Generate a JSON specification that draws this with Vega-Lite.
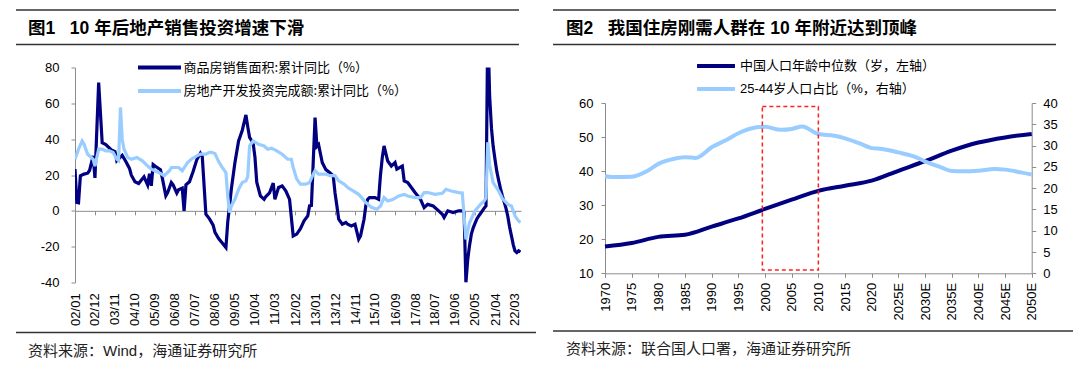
{
  "$schema": "https://vega.github.io/schema/vega-lite/v6.json",
  "padding": {"left": 15, "top": 9, "right": 0, "bottom": 0},
  "background": "white",
  "config": {
    "view": {"stroke": null},
    "font": "Liberation Sans, Noto Sans CJK SC",
    "axis": {"labelFont": "Liberation Sans", "labelFontSize": 13, "labelColor": "#000", "domainColor": "#8c8c8c", "tickColor": "#8c8c8c", "grid": false, "title": null, "labelOverlap": false, "labelFlush": false}
  },
  "datasets": {
    "sales": [
      {"date":"2002-01","v":23.3},{"date":"2002-02","v":4.7},{"date":"2002-03","v":4.5},{"date":"2002-04","v":19.5},{"date":"2002-06","v":20.5},{"date":"2002-08","v":21},{"date":"2002-09","v":22.5},{"date":"2002-11","v":30.7},{"date":"2002-12","v":18.4},
      {"date":"2003-02","v":71.6},{"date":"2003-04","v":38},{"date":"2003-06","v":37},{"date":"2003-09","v":34},{"date":"2003-11","v":33},{"date":"2003-12","v":28},
      {"date":"2004-03","v":31},{"date":"2004-05","v":27.5},{"date":"2004-07","v":23.7},{"date":"2004-08","v":19.9},{"date":"2004-10","v":16.2},{"date":"2004-12","v":15.3},
      {"date":"2005-03","v":19},{"date":"2005-05","v":14.4},{"date":"2005-06","v":20.7},{"date":"2005-07","v":14},{"date":"2005-08","v":25.8},{"date":"2005-09","v":25},{"date":"2005-12","v":23},
      {"date":"2006-01","v":18.4},{"date":"2006-03","v":8.4},{"date":"2006-04","v":10.2},{"date":"2006-06","v":15.8},{"date":"2006-07","v":14.5},{"date":"2006-09","v":9.9},{"date":"2006-10","v":11.8},{"date":"2006-12","v":12.7},
      {"date":"2007-01","v":0},{"date":"2007-02","v":14.5},{"date":"2007-04","v":16.2},{"date":"2007-06","v":22},{"date":"2007-08","v":28.5},{"date":"2007-10","v":32.2},{"date":"2007-11","v":30.4},
      {"date":"2008-01","v":-1.9},{"date":"2008-03","v":-4.5},{"date":"2008-05","v":-8},{"date":"2008-06","v":-12},{"date":"2008-08","v":-15.5},{"date":"2008-10","v":-18},{"date":"2008-12","v":-20.5},
      {"date":"2009-01","v":-6},{"date":"2009-02","v":3},{"date":"2009-03","v":12},{"date":"2009-05","v":27},{"date":"2009-07","v":39},{"date":"2009-09","v":45},{"date":"2009-11","v":53.5},{"date":"2009-12","v":47},
      {"date":"2010-01","v":41},{"date":"2010-03","v":38},{"date":"2010-04","v":30},{"date":"2010-05","v":16},{"date":"2010-07","v":8.3},{"date":"2010-09","v":6.4},{"date":"2010-10","v":8},{"date":"2010-12","v":10},
      {"date":"2011-02","v":15.5},{"date":"2011-03","v":6.4},{"date":"2011-05","v":13},{"date":"2011-07","v":13.9},{"date":"2011-09","v":11},{"date":"2011-11","v":6.4},
      {"date":"2012-01","v":-14},{"date":"2012-03","v":-13},{"date":"2012-05","v":-10},{"date":"2012-07","v":-5.6},{"date":"2012-09","v":-2.8},{"date":"2012-10","v":2.8},{"date":"2012-11","v":3},{"date":"2012-12","v":27},
      {"date":"2013-01","v":52},{"date":"2013-02","v":36},{"date":"2013-03","v":37},{"date":"2013-05","v":27},{"date":"2013-07","v":23},{"date":"2013-09","v":21.4},{"date":"2013-11","v":19.6},{"date":"2013-12","v":10},
      {"date":"2014-01","v":2.8},{"date":"2014-02","v":-4.7},{"date":"2014-04","v":-7.5},{"date":"2014-06","v":-6.5},{"date":"2014-07","v":-7.5},{"date":"2014-09","v":-8.4},{"date":"2014-11","v":-7.5},
      {"date":"2015-01","v":-15.8},{"date":"2015-02","v":-14},{"date":"2015-04","v":-4.7},{"date":"2015-05","v":3},{"date":"2015-06","v":6.4},{"date":"2015-07","v":7.4},{"date":"2015-10","v":7.4},{"date":"2015-12","v":6.4},
      {"date":"2016-01","v":20},{"date":"2016-02","v":30},{"date":"2016-03","v":36.2},{"date":"2016-05","v":27.8},{"date":"2016-07","v":25},{"date":"2016-09","v":27},{"date":"2016-10","v":23.3},
      {"date":"2017-01","v":25},{"date":"2017-02","v":16.7},{"date":"2017-04","v":15.8},{"date":"2017-06","v":13},{"date":"2017-08","v":10.2},{"date":"2017-11","v":6.4},
      {"date":"2018-01","v":1.8},{"date":"2018-03","v":3.6},{"date":"2018-06","v":2.7},{"date":"2018-09","v":0},{"date":"2018-11","v":-1.9},{"date":"2018-12","v":-3.7},
      {"date":"2019-02","v":0},{"date":"2019-05","v":-1},{"date":"2019-08","v":0},{"date":"2019-10","v":0},{"date":"2019-11","v":-1},{"date":"2019-12","v":-40},
      {"date":"2020-01","v":-27},{"date":"2020-02","v":-19},{"date":"2020-03","v":-13},{"date":"2020-04","v":-9.5},{"date":"2020-05","v":-7},{"date":"2020-06","v":-4.5},{"date":"2020-07","v":-3},{"date":"2020-08","v":-1.5},{"date":"2020-09","v":0},{"date":"2020-10","v":1.5},{"date":"2020-11","v":2.7},{"date":"2020-12","v":104.9},
      {"date":"2021-01","v":64},{"date":"2021-02","v":46},{"date":"2021-03","v":36},{"date":"2021-04","v":28.7},{"date":"2021-05","v":22},{"date":"2021-06","v":17},{"date":"2021-07","v":12.5},{"date":"2021-08","v":8.5},{"date":"2021-09","v":5},{"date":"2021-10","v":1.5},{"date":"2021-11","v":-3},{"date":"2021-12","v":-9},
      {"date":"2022-01","v":-14},{"date":"2022-02","v":-19},{"date":"2022-03","v":-22.3},{"date":"2022-04","v":-23.3},{"date":"2022-05","v":-22.3},{"date":"2022-06","v":-23}
    ],
    "inv": [
      {"date":"2002-01","v":28.8},{"date":"2002-03","v":34.4},{"date":"2002-05","v":39},{"date":"2002-06","v":37.2},{"date":"2002-08","v":31.6},{"date":"2002-10","v":29.8},{"date":"2002-11","v":28.8},{"date":"2002-12","v":25},
      {"date":"2003-02","v":34.4},{"date":"2003-04","v":34.4},{"date":"2003-06","v":33.5},{"date":"2003-08","v":33.5},{"date":"2003-10","v":32.6},{"date":"2003-12","v":28.8},
      {"date":"2004-01","v":28},{"date":"2004-02","v":57.7},{"date":"2004-03","v":40},{"date":"2004-04","v":34.4},{"date":"2004-06","v":29.8},{"date":"2004-08","v":28.8},{"date":"2004-11","v":29.8},
      {"date":"2005-02","v":27.9},{"date":"2005-05","v":25},{"date":"2005-07","v":23.3},{"date":"2005-11","v":21.4},
      {"date":"2006-02","v":19.6},{"date":"2006-05","v":22.4},{"date":"2006-06","v":24.2},{"date":"2006-10","v":24.2},{"date":"2006-12","v":22.4},
      {"date":"2007-03","v":27},{"date":"2007-05","v":28.8},{"date":"2007-08","v":30.7},{"date":"2007-10","v":31.6},
      {"date":"2008-01","v":31.6},{"date":"2008-03","v":32.6},{"date":"2008-04","v":32.6},{"date":"2008-06","v":32},{"date":"2008-08","v":27.5},{"date":"2008-10","v":24.2},{"date":"2008-12","v":21.4},
      {"date":"2009-01","v":8},{"date":"2009-02","v":-1},{"date":"2009-03","v":2.7},{"date":"2009-05","v":6.4},{"date":"2009-07","v":12},{"date":"2009-09","v":15.8},{"date":"2009-11","v":16.7},{"date":"2009-12","v":19},
      {"date":"2010-01","v":36.2},{"date":"2010-03","v":39},{"date":"2010-06","v":37.2},{"date":"2010-09","v":36.2},{"date":"2010-11","v":34.4},
      {"date":"2011-01","v":35},{"date":"2011-04","v":33.5},{"date":"2011-07","v":31.6},{"date":"2011-10","v":28.8},{"date":"2011-12","v":28.8},
      {"date":"2012-01","v":24.2},{"date":"2012-03","v":17.7},{"date":"2012-05","v":14.9},{"date":"2012-08","v":14.9},{"date":"2012-10","v":15.8},{"date":"2012-12","v":20.5},
      {"date":"2013-01","v":22.4},{"date":"2013-03","v":20.5},{"date":"2013-07","v":20.5},{"date":"2013-09","v":19.6},{"date":"2013-12","v":19.6},
      {"date":"2014-02","v":16.7},{"date":"2014-05","v":14.9},{"date":"2014-07","v":13},{"date":"2014-10","v":11.1},
      {"date":"2015-01","v":9.2},{"date":"2015-03","v":7},{"date":"2015-05","v":4.6},{"date":"2015-08","v":2},{"date":"2015-11","v":0.9},
      {"date":"2016-01","v":2.7},{"date":"2016-03","v":7.4},{"date":"2016-05","v":5.5},{"date":"2016-08","v":6.4},{"date":"2016-11","v":8.3},
      {"date":"2017-02","v":9.2},{"date":"2017-04","v":8.3},{"date":"2017-08","v":7.4},{"date":"2017-11","v":7.4},
      {"date":"2018-01","v":10.2},{"date":"2018-03","v":10.2},{"date":"2018-07","v":9.2},{"date":"2018-11","v":9.8},
      {"date":"2019-01","v":12},{"date":"2019-04","v":11.1},{"date":"2019-08","v":10.2},{"date":"2019-10","v":10},{"date":"2019-11","v":-2.8},{"date":"2019-12","v":-16},
      {"date":"2020-01","v":-11},{"date":"2020-02","v":-6.5},{"date":"2020-03","v":-4.5},{"date":"2020-05","v":0},{"date":"2020-08","v":3.6},{"date":"2020-10","v":5.5},{"date":"2020-11","v":7},{"date":"2020-12","v":38.3},
      {"date":"2021-01","v":25.6},{"date":"2021-03","v":15.8},{"date":"2021-06","v":11.1},{"date":"2021-08","v":7},{"date":"2021-11","v":3.6},
      {"date":"2022-01","v":2.7},{"date":"2022-03","v":-2.8},{"date":"2022-05","v":-5.6},{"date":"2022-06","v":-6.5}
    ],
    "age": [
      {"year":1970,"v":17.9},{"year":1975,"v":18.9},{"year":1980,"v":20.7},{"year":1985,"v":21.3},{"year":1990,"v":23.7},{"year":1995,"v":26.1},{"year":2000,"v":28.9},{"year":2005,"v":31.6},{"year":2010,"v":34.2},{"year":2015,"v":35.7},{"year":2020,"v":37.2},{"year":2025,"v":40.1},{"year":2030,"v":42.9},{"year":2035,"v":46.0},{"year":2040,"v":48.4},{"year":2045,"v":49.9},{"year":2050,"v":50.9}
    ],
    "share": [
      {"year":1970,"v":22.8},{"year":1972,"v":22.6},{"year":1975,"v":22.7},{"year":1978,"v":24.1},{"year":1980,"v":25.7},{"year":1983,"v":26.9},{"year":1985,"v":27.25},{"year":1987,"v":27.1},{"year":1990,"v":29.6},{"year":1993,"v":31.5},{"year":1995,"v":32.9},{"year":1997,"v":33.9},{"year":2000,"v":34.4},{"year":2003,"v":33.7},{"year":2005,"v":33.9},{"year":2007,"v":34.5},{"year":2010,"v":32.7},{"year":2013,"v":32.3},{"year":2015,"v":31.7},{"year":2018,"v":30.4},{"year":2020,"v":29.4},{"year":2022,"v":29.2},{"year":2025,"v":28.4},{"year":2028,"v":27.4},{"year":2030,"v":26.3},{"year":2033,"v":24.9},{"year":2035,"v":24.0},{"year":2037,"v":23.95},{"year":2040,"v":24.1},{"year":2043,"v":24.5},{"year":2045,"v":24.35},{"year":2048,"v":23.7},{"year":2050,"v":23.2}
    ]
  },
  "resolve": {"scale": {"color": "independent"}, "legend": {"color": "independent"}},
  "spacing": 15,
  "hconcat": [
    {
      "spacing": 11.5,
      "resolve": {"scale": {"color": "independent"}, "legend": {"color": "independent"}},
      "vconcat": [
        {
          "width": 503, "height": 34.5,
          "data": {"values": [{"label": "图1\u00a0\u00a0\u00a010 年后地产销售投资增速下滑"}]},
          "layer": [
            {"mark": {"type": "rule", "stroke": "#333", "strokeWidth": 1.5},
             "encoding": {"x": {"datum": 0, "type": "quantitative", "scale": {"domain": [0, 1]}, "axis": null}, "x2": {"datum": 1}, "y": {"datum": 1, "type": "quantitative", "scale": {"domain": [0, 1]}, "axis": null}}},
            {"mark": {"type": "rule", "stroke": "#333", "strokeWidth": 1.5},
             "encoding": {"x": {"datum": 0, "type": "quantitative"}, "x2": {"datum": 1}, "y": {"datum": 0, "type": "quantitative"}}},
            {"mark": {"type": "text", "align": "left", "baseline": "middle", "dx": 12, "fontSize": 17.5, "fontWeight": "bold", "color": "#000", "font": "Liberation Sans, Noto Sans CJK SC"},
             "encoding": {"text": {"field": "label"}, "x": {"datum": 0, "type": "quantitative"}, "y": {"datum": 0.45, "type": "quantitative"}}}
          ]
        },
        {
          "spacing": 6,
          "resolve": {"scale": {"color": "independent"}, "legend": {"color": "independent"}},
          "vconcat": [
            {
              "spacing": 0,
              "resolve": {"scale": {"color": "independent"}, "legend": {"color": "independent"}},
              "hconcat": [
                {"width": 1, "height": 1, "data": {"values": []}, "mark": {"type": "point", "opacity": 0}},
                {
                  "width": 446, "height": 215,
                  "encoding": {
                    "x": {"field": "date", "type": "temporal",
                          "scale": {"type": "utc", "domain": [{"year": 2002, "month": 1, "date": 1, "utc": true}, {"year": 2022, "month": 6, "date": 10, "utc": true}]},
                          "axis": {"values": [
                            {"year":2002,"month":1,"utc":true},{"year":2002,"month":12,"utc":true},{"year":2003,"month":11,"utc":true},{"year":2004,"month":10,"utc":true},
                            {"year":2005,"month":9,"utc":true},{"year":2006,"month":8,"utc":true},{"year":2007,"month":7,"utc":true},{"year":2008,"month":6,"utc":true},
                            {"year":2009,"month":5,"utc":true},{"year":2010,"month":4,"utc":true},{"year":2011,"month":3,"utc":true},{"year":2012,"month":2,"utc":true},
                            {"year":2013,"month":1,"utc":true},{"year":2013,"month":12,"utc":true},{"year":2014,"month":11,"utc":true},{"year":2015,"month":10,"utc":true},
                            {"year":2016,"month":9,"utc":true},{"year":2017,"month":8,"utc":true},{"year":2018,"month":7,"utc":true},{"year":2019,"month":6,"utc":true},
                            {"year":2020,"month":5,"utc":true},{"year":2021,"month":4,"utc":true},{"year":2022,"month":3,"utc":true}],
                            "labelExpr": "utcFormat(datum.value, '%y/%m')", "labelAngle": 270, "offset": -71.67, "labelPadding": 78, "tickSize": 4, "labelFontSize": 13, "labelOverlap": false, "labelFlush": false}},
                    "y": {"field": "v", "type": "quantitative", "scale": {"domain": [-40, 80], "nice": false},
                          "axis": {"values": [-40, -20, 0, 20, 40, 60, 80], "labelExpr": "'' + datum.value", "tickSize": 4, "labelPadding": 12, "minExtent": 58, "labelOverlap": false, "labelFlush": false}}
                  },
                  "layer": [
                    {
                      "data": {"name": "sales"},
                      "mark": {"type": "line", "strokeWidth": 3.2, "clip": true},
                      "encoding": {
                        "color": {"datum": "商品房销售面积:累计同比（%）", "type": "nominal",
                                  "scale": {"domain": ["商品房销售面积:累计同比（%）", "房地产开发投资完成额:累计同比（%）"], "range": ["#000080", "#99ccff"]},
                                  "legend": {"orient": "none", "legendX": 75, "legendY": -9.5, "title": null, "symbolType": "M-3,0H3", "symbolSize": 205, "symbolStrokeWidth": 4, "labelFont": "Noto Sans CJK SC", "labelFontSize": 13, "labelColor": "#000", "labelLimit": 400, "rowPadding": 5.5, "padding": 0, "labelOffset": 14.5}}
                      }
                    },
                    {
                      "data": {"name": "inv"},
                      "mark": {"type": "line", "strokeWidth": 3.2, "clip": true},
                      "encoding": {
                        "color": {"datum": "房地产开发投资完成额:累计同比（%）", "type": "nominal"}
                      }
                    }
                  ]
                }
              ]
            },
            {
              "width": 520, "height": 30,
              "data": {"values": [{"label": "资料来源：Wind，海通证券研究所"}]},
              "layer": [
                {"mark": {"type": "rule", "stroke": "#333", "strokeWidth": 1.5},
                 "encoding": {"x": {"datum": 0, "type": "quantitative", "scale": {"domain": [0, 1]}, "axis": null}, "x2": {"datum": 1}, "y": {"datum": 1, "type": "quantitative", "scale": {"domain": [0, 1]}, "axis": null}}},
                {"mark": {"type": "text", "align": "left", "baseline": "middle", "dx": 12, "fontSize": 15, "color": "#222", "font": "Liberation Sans, Noto Sans CJK SC"},
                 "encoding": {"text": {"field": "label"}, "x": {"datum": 0, "type": "quantitative"}, "y": {"datum": 0.4, "type": "quantitative"}}}
              ]
            }
          ]
        }
      ]
    },
    {
      "spacing": 11,
      "resolve": {"scale": {"color": "independent"}, "legend": {"color": "independent"}},
      "vconcat": [
        {
          "width": 503, "height": 34.5,
          "data": {"values": [{"label": "图2\u00a0\u00a0\u00a0我国住房刚需人群在 10 年附近达到顶峰"}]},
          "layer": [
            {"mark": {"type": "rule", "stroke": "#333", "strokeWidth": 1.5},
             "encoding": {"x": {"datum": 0, "type": "quantitative", "scale": {"domain": [0, 1]}, "axis": null}, "x2": {"datum": 1}, "y": {"datum": 1, "type": "quantitative", "scale": {"domain": [0, 1]}, "axis": null}}},
            {"mark": {"type": "rule", "stroke": "#333", "strokeWidth": 1.5},
             "encoding": {"x": {"datum": 0, "type": "quantitative"}, "x2": {"datum": 1}, "y": {"datum": 0, "type": "quantitative"}}},
            {"mark": {"type": "text", "align": "left", "baseline": "middle", "dx": 13, "fontSize": 17.5, "fontWeight": "bold", "color": "#000", "font": "Liberation Sans, Noto Sans CJK SC"},
             "encoding": {"text": {"field": "label"}, "x": {"datum": 0, "type": "quantitative"}, "y": {"datum": 0.45, "type": "quantitative"}}}
          ]
        },
        {
          "spacing": 10,
          "resolve": {"scale": {"color": "independent"}, "legend": {"color": "independent"}},
          "vconcat": [
            {
              "spacing": 0,
              "resolve": {"scale": {"color": "independent"}, "legend": {"color": "independent"}},
              "hconcat": [
                {"width": 1, "height": 1, "data": {"values": []}, "mark": {"type": "point", "opacity": 0}},
                {
                  "width": 426.7, "height": 170.3,
                  "resolve": {"scale": {"y": "independent"}},
                  "encoding": {
                    "x": {"field": "year", "type": "quantitative", "scale": {"domain": [1970, 2050], "nice": false, "zero": false},
                          "axis": {"values": [1970,1975,1980,1985,1990,1995,2000,2005,2010,2015,2020,2025,2030,2035,2040,2045,2050], "format": "d",
                                   "labelExpr": "datum.value > 2020 ? datum.value + 'E' : '' + datum.value", "labelAngle": 270, "tickSize": 4, "labelPadding": 5, "labelFontSize": 13, "labelOverlap": false, "labelFlush": false}}
                  },
                  "layer": [
                    {
                      "data": {"name": "age"},
                      "mark": {"type": "line", "strokeWidth": 4, "interpolate": "monotone"},
                      "encoding": {
                        "y": {"field": "v", "type": "quantitative", "scale": {"domain": [10, 60], "nice": false, "zero": false},
                              "axis": {"orient": "left", "values": [10, 20, 30, 40, 50, 60], "tickSize": 4, "labelPadding": 8, "minExtent": 51, "labelOverlap": false, "labelFlush": false}},
                        "color": {"datum": "中国人口年龄中位数（岁，左轴）", "type": "nominal",
                                  "scale": {"domain": ["中国人口年龄中位数（岁，左轴）", "25-44岁人口占比（%，右轴）"], "range": ["#000080", "#99ccff"]},
                                  "legend": {"orient": "none", "legendX": 102.5, "legendY": -45.5, "title": null, "symbolType": "M-3,0H3", "symbolSize": 160, "symbolStrokeWidth": 4, "labelFont": "Liberation Sans, Noto Sans CJK SC", "labelFontSize": 13, "labelColor": "#000", "labelLimit": 400, "rowPadding": 6, "padding": 0, "labelOffset": 15.5}}
                      }
                    },
                    {
                      "data": {"name": "share"},
                      "mark": {"type": "line", "strokeWidth": 4, "interpolate": "monotone"},
                      "encoding": {
                        "y": {"field": "v", "type": "quantitative", "scale": {"domain": [0, 40], "nice": false},
                              "axis": {"orient": "right", "values": [0, 5, 10, 15, 20, 25, 30, 35, 40], "tickSize": 4, "labelPadding": 7, "labelOverlap": false, "labelFlush": false}},
                        "color": {"datum": "25-44岁人口占比（%，右轴）", "type": "nominal"}
                      }
                    },
                    {
                      "data": {"values": [{"year": 1999.5, "year_end": 2010, "low": 11, "high": 59}]},
                      "mark": {"type": "rect", "fill": "transparent", "stroke": "#ff2020", "strokeDash": [4, 3], "strokeWidth": 1.5},
                      "encoding": {
                        "x2": {"field": "year_end"},
                        "y": {"field": "low", "type": "quantitative", "scale": {"domain": [10, 60], "nice": false, "zero": false}, "axis": null},
                        "y2": {"field": "high"}
                      }
                    }
                  ]
                }
              ]
            },
            {
              "width": 520, "height": 30,
              "data": {"values": [{"label": "资料来源：联合国人口署，海通证券研究所"}]},
              "layer": [
                {"mark": {"type": "rule", "stroke": "#333", "strokeWidth": 1.5},
                 "encoding": {"x": {"datum": 0, "type": "quantitative", "scale": {"domain": [0, 1]}, "axis": null}, "x2": {"datum": 1}, "y": {"datum": 1, "type": "quantitative", "scale": {"domain": [0, 1]}, "axis": null}}},
                {"mark": {"type": "text", "align": "left", "baseline": "middle", "dx": 13, "fontSize": 15, "color": "#222", "font": "Liberation Sans, Noto Sans CJK SC"},
                 "encoding": {"text": {"field": "label"}, "x": {"datum": 0, "type": "quantitative"}, "y": {"datum": 0.4, "type": "quantitative"}}}
              ]
            }
          ]
        }
      ]
    }
  ]
}
